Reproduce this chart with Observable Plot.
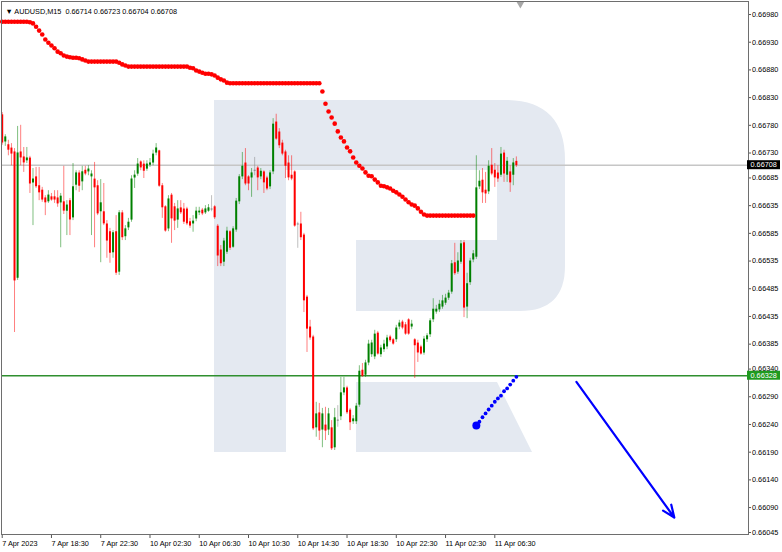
<!DOCTYPE html>
<html>
<head>
<meta charset="utf-8">
<script src="https://cdn.jsdelivr.net/npm/d3@7"></script>
<script src="https://cdn.jsdelivr.net/npm/@observablehq/plot@0.6"></script>
<style>
  html, body { margin: 0; padding: 0; background: #ffffff; }
  #chart { width: 782px; height: 552px; }
</style>
</head>
<body>
<div id="chart"></div>
<script>
// AUDUSD, M15 candles from 7 Apr 2023 14:30 to 11 Apr 2023 08:15 (bar index 0..167)
const open = [
  0.66798,0.66749,0.66744,0.66738,0.66731,0.66503,0.66731,0.66722,0.66715,0.66720,
  0.66675,0.66686,0.66670,0.66662,0.66648,0.66641,0.66650,0.66650,0.66648,0.66639,
  0.66641,0.66624,0.66643,0.66612,0.66671,0.66693,0.66677,0.66698,0.66695,0.66686,
  0.66682,0.66670,0.66623,0.66623,0.66601,0.66587,0.66549,0.66587,0.66514,0.66621,
  0.66578,0.66594,0.66608,0.66684,0.66691,0.66713,0.66709,0.66700,0.66707,0.66711,
  0.66729,0.66733,0.66670,0.66632,0.66592,0.66653,0.66632,0.66608,0.66630,0.66628,
  0.66628,0.66605,0.66601,0.66610,0.66621,0.66626,0.66621,0.66624,0.66628,0.66632,
  0.66597,0.66554,0.66532,0.66550,0.66587,0.66559,0.66590,0.66641,0.66686,0.66711,
  0.66686,0.66684,0.66698,0.66702,0.66686,0.66695,0.66684,0.66668,0.66695,0.66785,
  0.66767,0.66747,0.66731,0.66711,0.66689,0.66695,0.66601,0.66601,0.66581,0.66469,
  0.66415,0.66397,0.66233,0.66260,0.66229,0.66238,0.66229,0.66233,0.66197,0.66247,
  0.66253,0.66296,0.66305,0.66265,0.66244,0.66244,0.66274,0.66337,0.66328,0.66350,
  0.66365,0.66361,0.66404,0.66365,0.66374,0.66379,0.66397,0.66392,0.66392,0.66415,
  0.66424,0.66419,0.66428,0.66415,0.66392,0.66386,0.66379,0.66368,0.66392,0.66401,
  0.66428,0.66442,0.66446,0.66451,0.66458,0.66467,0.66478,0.66531,0.66514,0.66532,
  0.66567,0.66451,0.66495,0.66536,0.66541,0.66668,0.66680,0.66662,0.66659,0.66707,
  0.66698,0.66693,0.66689,0.66729,0.66689,0.66695,0.66689,0.66714
];
const high = [
  0.66803,0.66763,0.66753,0.66747,0.66738,0.66778,0.66780,0.66740,0.66740,0.66724,
  0.66702,0.66704,0.66704,0.66668,0.66653,0.66662,0.66657,0.66662,0.66662,0.66657,
  0.66706,0.66644,0.66648,0.66711,0.66698,0.66698,0.66706,0.66706,0.66707,0.66698,
  0.66713,0.66680,0.66682,0.66675,0.66608,0.66594,0.66590,0.66617,0.66626,0.66626,
  0.66599,0.66612,0.66689,0.66698,0.66720,0.66716,0.66716,0.66716,0.66720,0.66735,
  0.66747,0.66735,0.66675,0.66635,0.66653,0.66657,0.66639,0.66644,0.66644,0.66639,
  0.66632,0.66612,0.66617,0.66632,0.66632,0.66630,0.66635,0.66637,0.66653,0.66635,
  0.66601,0.66563,0.66576,0.66596,0.66590,0.66597,0.66648,0.66691,0.66731,0.66738,
  0.66689,0.66702,0.66722,0.66706,0.66702,0.66698,0.66688,0.66698,0.66792,0.66800,
  0.66774,0.66753,0.66735,0.66725,0.66725,0.66698,0.66605,0.66623,0.66585,0.66473,
  0.66428,0.66401,0.66280,0.66278,0.66269,0.66271,0.66269,0.66247,0.66269,0.66274,
  0.66325,0.66325,0.66309,0.66269,0.66256,0.66278,0.66346,0.66350,0.66356,0.66392,
  0.66392,0.66410,0.66408,0.66383,0.66392,0.66401,0.66401,0.66395,0.66419,0.66428,
  0.66428,0.66424,0.66431,0.66428,0.66395,0.66392,0.66383,0.66399,0.66404,0.66431,
  0.66467,0.66455,0.66464,0.66473,0.66475,0.66482,0.66536,0.66567,0.66550,0.66572,
  0.66572,0.66513,0.66540,0.66554,0.66725,0.66698,0.66702,0.66695,0.66716,0.66738,
  0.66711,0.66707,0.66740,0.66735,0.66722,0.66707,0.66720,0.66723
];
const low = [
  0.66744,0.66742,0.66725,0.66707,0.66406,0.66500,0.66707,0.66695,0.66711,0.66657,
  0.66599,0.66666,0.66644,0.66641,0.66617,0.66639,0.66643,0.66639,0.66632,0.66559,
  0.66619,0.66581,0.66581,0.66608,0.66662,0.66659,0.66662,0.66689,0.66689,0.66581,
  0.66559,0.66617,0.66532,0.66599,0.66540,0.66531,0.66540,0.66509,0.66509,0.66572,
  0.66572,0.66590,0.66605,0.66666,0.66688,0.66698,0.66684,0.66697,0.66704,0.66707,
  0.66725,0.66668,0.66612,0.66587,0.66588,0.66567,0.66590,0.66594,0.66619,0.66601,
  0.66599,0.66594,0.66587,0.66606,0.66617,0.66617,0.66619,0.66623,0.66624,0.66610,
  0.66525,0.66525,0.66525,0.66547,0.66554,0.66558,0.66587,0.66637,0.66682,0.66671,
  0.66662,0.66650,0.66689,0.66662,0.66682,0.66657,0.66662,0.66664,0.66691,0.66753,
  0.66738,0.66725,0.66684,0.66680,0.66680,0.66596,0.66558,0.66572,0.66442,0.66370,
  0.66392,0.66229,0.66217,0.66211,0.66198,0.66211,0.66220,0.66193,0.66193,0.66235,
  0.66247,0.66292,0.66258,0.66229,0.66240,0.66240,0.66271,0.66325,0.66325,0.66346,
  0.66361,0.66357,0.66365,0.66361,0.66370,0.66375,0.66388,0.66383,0.66388,0.66411,
  0.66411,0.66401,0.66401,0.66411,0.66323,0.66352,0.66365,0.66365,0.66388,0.66397,
  0.66424,0.66439,0.66442,0.66448,0.66455,0.66464,0.66475,0.66509,0.66511,0.66529,
  0.66433,0.66431,0.66491,0.66532,0.66538,0.66664,0.66639,0.66639,0.66655,0.66689,
  0.66668,0.66677,0.66686,0.66677,0.66677,0.66659,0.66671,0.66704
];
const close = [
  0.66749,0.66760,0.66736,0.66729,0.66500,0.66731,0.66722,0.66713,0.66722,0.66675,
  0.66684,0.66670,0.66659,0.66646,0.66641,0.66655,0.66646,0.66646,0.66639,0.66653,
  0.66626,0.66637,0.66610,0.66670,0.66695,0.66671,0.66697,0.66693,0.66702,0.66693,
  0.66668,0.66621,0.66641,0.66603,0.66572,0.66550,0.66587,0.66514,0.66623,0.66578,
  0.66594,0.66606,0.66684,0.66691,0.66711,0.66704,0.66698,0.66711,0.66713,0.66729,
  0.66740,0.66671,0.66632,0.66590,0.66648,0.66612,0.66608,0.66630,0.66623,0.66606,
  0.66603,0.66599,0.66608,0.66626,0.66626,0.66621,0.66630,0.66632,0.66628,0.66614,
  0.66545,0.66531,0.66572,0.66590,0.66559,0.66594,0.66644,0.66688,0.66707,0.66675,
  0.66675,0.66695,0.66698,0.66686,0.66698,0.66677,0.66666,0.66695,0.66783,0.66756,
  0.66744,0.66729,0.66707,0.66686,0.66684,0.66599,0.66601,0.66578,0.66464,0.66413,
  0.66397,0.66233,0.66260,0.66229,0.66260,0.66229,0.66260,0.66197,0.66253,0.66247,
  0.66298,0.66307,0.66262,0.66244,0.66251,0.66274,0.66337,0.66328,0.66352,0.66386,
  0.66388,0.66404,0.66368,0.66379,0.66386,0.66397,0.66392,0.66386,0.66415,0.66424,
  0.66415,0.66404,0.66404,0.66422,0.66383,0.66370,0.66368,0.66395,0.66401,0.66428,
  0.66449,0.66449,0.66458,0.66464,0.66469,0.66478,0.66531,0.66513,0.66536,0.66567,
  0.66451,0.66495,0.66536,0.66549,0.66668,0.66680,0.66659,0.66657,0.66707,0.66693,
  0.66686,0.66684,0.66729,0.66693,0.66716,0.66677,0.66713,0.66708
];

// Dotted indicator: red while above price (bars 0..153), blue afterwards (bars 154..167)
const indicatorRed = [
  0.66967,0.66967,0.66967,0.66967,0.66967,0.66967,0.66967,0.66967,0.66967,0.66966,
  0.66964,0.66958,0.66951,0.66944,0.66935,0.66929,0.66924,0.66919,0.66913,0.66910,
  0.66906,0.66904,0.66903,0.66902,0.66902,0.66901,0.66899,0.66897,0.66895,0.66895,
  0.66895,0.66895,0.66895,0.66895,0.66895,0.66895,0.66895,0.66895,0.66893,0.66890,
  0.66888,0.66886,0.66886,0.66886,0.66886,0.66886,0.66886,0.66886,0.66886,0.66886,
  0.66886,0.66886,0.66886,0.66886,0.66886,0.66886,0.66886,0.66886,0.66886,0.66886,
  0.66886,0.66884,0.66883,0.66879,0.66877,0.66875,0.66873,0.66873,0.66872,0.66870,
  0.66866,0.66863,0.66861,0.66857,0.66856,0.66856,0.66856,0.66856,0.66856,0.66856,
  0.66856,0.66856,0.66856,0.66856,0.66856,0.66856,0.66856,0.66856,0.66856,0.66856,
  0.66856,0.66856,0.66856,0.66856,0.66856,0.66856,0.66856,0.66856,0.66856,0.66856,
  0.66856,0.66856,0.66856,0.66856,0.66841,0.66819,0.66805,0.66794,0.66783,0.66769,
  0.66758,0.66751,0.66740,0.66733,0.66722,0.66713,0.66707,0.66702,0.66695,0.66689,
  0.66688,0.66682,0.66677,0.66671,0.66670,0.66668,0.66666,0.66662,0.66659,0.66655,
  0.66651,0.66646,0.66641,0.66637,0.66635,0.66630,0.66624,0.66619,0.66617,0.66617,
  0.66617,0.66617,0.66617,0.66617,0.66617,0.66617,0.66617,0.66617,0.66617,0.66617,
  0.66617,0.66617,0.66617,0.66617
];
const indicatorBlueStart = 154;
const indicatorBlue = [
  0.66238,0.66245,0.66253,0.66260,0.66267,0.66274,0.66281,0.66287,0.66292,0.66300,
  0.66305,0.66312,0.66319,0.66326
];

// Horizontal levels and the drawn forecast arrow (bar index, price)
const bidPrice = 0.66708;
const levelPrice = 0.66328;
const arrowBars = [186.5, 218.3];
const arrowPrices = [0.66317, 0.66072];
const shiftMarkerBar = 168.3;

// Axis ticks
const xTickBars = [0, 16, 32, 48, 64, 80, 96, 112, 128, 144, 160];
const xTickLabels = ["7 Apr 2023", "7 Apr 18:30", "7 Apr 22:30", "10 Apr 02:30", "10 Apr 06:30",
  "10 Apr 10:30", "10 Apr 14:30", "10 Apr 18:30", "10 Apr 22:30", "11 Apr 02:30", "11 Apr 06:30"];
const yTicks = [0.66980, 0.66930, 0.66880, 0.66830, 0.66780, 0.66730, 0.66685, 0.66635, 0.66585,
  0.66535, 0.66485, 0.66435, 0.66385, 0.66340, 0.66290, 0.66240, 0.66190, 0.66140, 0.66090, 0.66045];
const titleText = "\u25BC AUDUSD,M15  0.66714 0.66723 0.66704 0.66708";

const bars = open.map((o, i) => ({i, o, h: high[i], l: low[i], c: close[i]}));
const tone = d => d.c > d.o ? "#008000" : d.c < d.o ? "#ff0000" : "#808080";
const redDots = indicatorRed.map((v, i) => ({i, v}));
const blueDots = indicatorBlue.map((v, k) => ({i: indicatorBlueStart + k, v}));
const arrow = [{x1: arrowBars[0], y1: arrowPrices[0], x2: arrowBars[1], y2: arrowPrices[1]}];

const font = "'Liberation Sans', Arial, sans-serif";

const plot = Plot.plot({
  width: 782,
  height: 552,
  marginLeft: 1,
  marginRight: 34,
  marginTop: 1,
  marginBottom: 18,
  style: {fontFamily: font, fontSize: "7.3px", background: "transparent", color: "#000"},
  x: {domain: [-0.23, 242.4], axis: null},
  y: {domain: [0.660414, 0.670035], axis: null},
  marks: [
    Plot.ruleY([bidPrice], {stroke: "#c6c6c6", strokeWidth: 1.6}),
    Plot.ruleY([levelPrice], {stroke: "#2f8f2f", strokeWidth: 1.6}),
    // wicks
    Plot.ruleX(bars, {x: "i", y1: "l", y2: "h", stroke: tone, strokeOpacity: 0.5, strokeWidth: 1}),
    // bodies
    Plot.ruleX(bars, {x: "i", y1: "o", y2: "c", stroke: tone, strokeWidth: 2, insetTop: -0.5, insetBottom: -0.5}),
    // dotted indicator
    Plot.dot(redDots, {x: "i", y: "v", r: 2.3, fill: "#ff0000", stroke: "none"}),
    Plot.dot(blueDots, {x: "i", y: "v", r: 1.9, fill: "#0000ff", stroke: "none"}),
    Plot.dot(blueDots.slice(0, 1), {x: "i", y: "v", r: 4, fill: "#0000ff", stroke: "none"}),
    Plot.arrow(arrow, {x1: "x1", y1: "y1", x2: "x2", y2: "y2", stroke: "#0000ff", strokeWidth: 2.2, headLength: 9, headAngle: 45}),
    // chart-shift marker
    Plot.dot([shiftMarkerBar], {x: d => d, frameAnchor: "top", dy: 2, symbol: "triangle", rotate: 180, r: 3.2, fill: "#a8a8a8", stroke: "none"}),
    Plot.axisX({ticks: xTickBars, tickFormat: d => xTickLabels[xTickBars.indexOf(d)], tickSize: 4, tickPadding: 2,
      textAnchor: "start", dx: 0, label: null, stroke: "#555", fill: "#000"}),
    Plot.axisY({anchor: "right", ticks: yTicks, tickFormat: d => d.toFixed(5), tickSize: 2, tickPadding: 1.5,
      label: null, stroke: "#555", fill: "#000"}),
    Plot.frame({stroke: "#6e6e6e"}),
    Plot.text([titleText], {frameAnchor: "top-left", dx: 4, dy: 7, textAnchor: "start", fill: "#000", fontSize: 7.3})
  ]
});

document.getElementById("chart").appendChild(plot);

// Watermark logo behind the price data
const svg = d3.select(plot);
const logo = svg.insert("g", ":first-child").attr("fill", "#e4e9f1");
[
  "M214,100 H505 Q565,100 565,160 V266 Q565,311 520,311 H356 V240 H497 V170 H286 V452 H214 Z",
  "M356,382 H497 L532,452 H356 Z"
].forEach(d => logo.append("path").attr("d", d));

// Price tags on the right scale
const yScale = plot.scale("y");
const tags = svg.append("g")
  .attr("font-family", font)
  .attr("font-size", 7.3)
  .attr("text-anchor", "start");
[[bidPrice, "#000000"], [levelPrice, "#1f9a1f"]].forEach(([v, bg]) => {
  const yy = yScale.apply(v);
  tags.append("rect").attr("x", 747).attr("y", yy - 4.5).attr("width", 33).attr("height", 9).attr("fill", bg);
  tags.append("text").attr("x", 750.5).attr("y", yy).attr("dy", "0.35em").attr("fill", "#fff").text(v.toFixed(5));
});
</script>
</body>
</html>
